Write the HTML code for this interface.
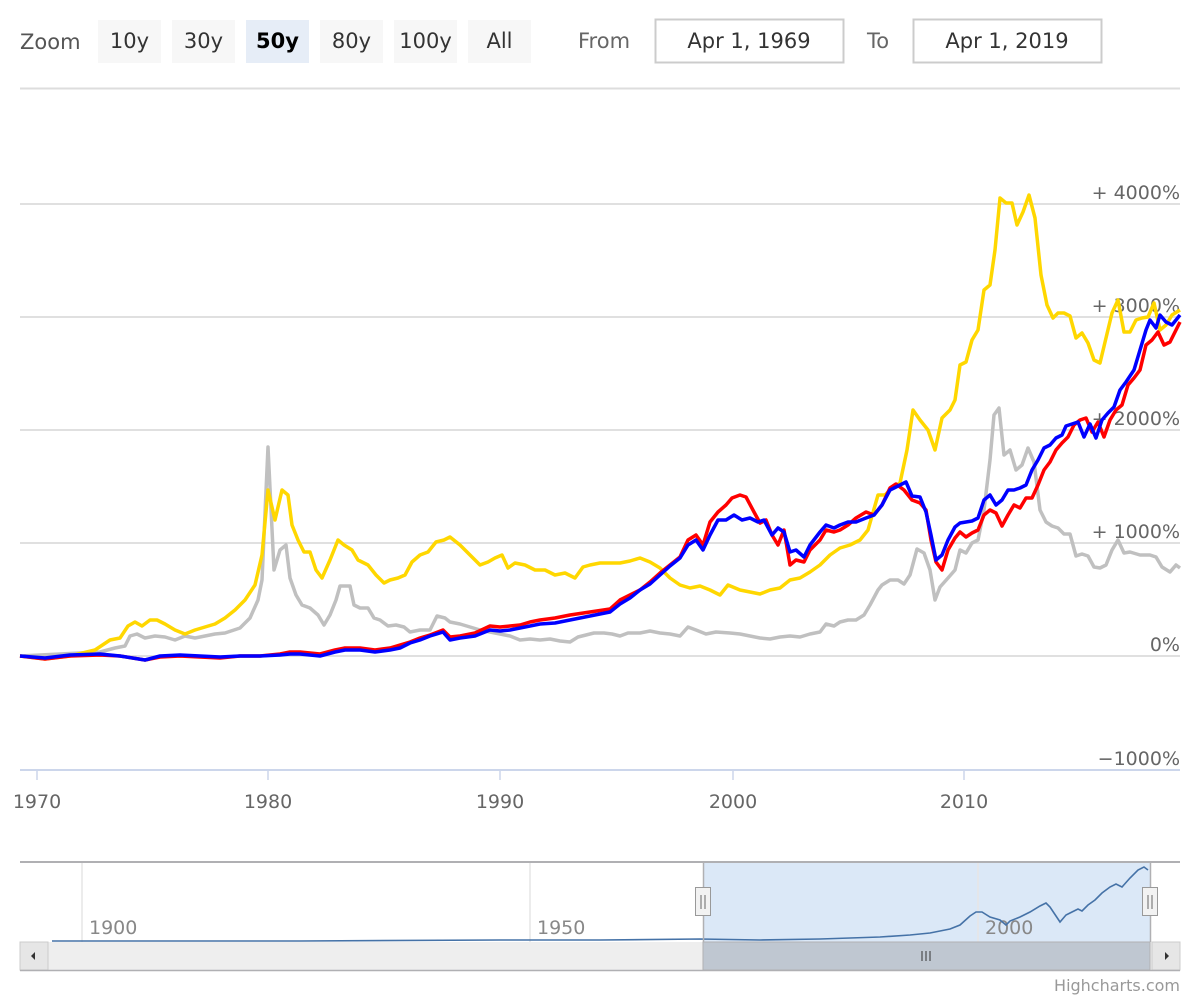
<!DOCTYPE html>
<html><head><meta charset="utf-8"><style>
body{margin:0;background:#fff;font-family:"DejaVu Sans","Liberation Sans",sans-serif;}
svg{display:block}
</style></head><body>
<svg width="1200" height="1000" viewBox="0 0 1200 1000" xmlns="http://www.w3.org/2000/svg" font-family="DejaVu Sans, Liberation Sans, sans-serif">
<text x="20" y="49" font-size="21" fill="#555">Zoom</text>
<g font-size="21" fill="#333" text-anchor="middle">
<rect x="98" y="20" width="63" height="43" fill="#f7f7f7"/><text x="129.5" y="48">10y</text>
<rect x="172" y="20" width="63" height="43" fill="#f7f7f7"/><text x="203.5" y="48">30y</text>
<rect x="246" y="20" width="63" height="43" fill="#e6edf7"/><text x="277.5" y="48" font-weight="bold" fill="#000">50y</text>
<rect x="320" y="20" width="63" height="43" fill="#f7f7f7"/><text x="351.5" y="48">80y</text>
<rect x="394" y="20" width="63" height="43" fill="#f7f7f7"/><text x="425.5" y="48">100y</text>
<rect x="468" y="20" width="63" height="43" fill="#f7f7f7"/><text x="499.5" y="48">All</text>
</g>
<text x="578" y="48" font-size="21" fill="#666">From</text>
<rect x="655.5" y="19.5" width="188" height="43" fill="#fff" stroke="#ccc" stroke-width="2"/>
<text x="749" y="48" font-size="21" fill="#333" text-anchor="middle">Apr 1, 1969</text>
<text x="867" y="48" font-size="21" fill="#666">To</text>
<rect x="913.5" y="19.5" width="188" height="43" fill="#fff" stroke="#ccc" stroke-width="2"/>
<text x="1007" y="48" font-size="21" fill="#333" text-anchor="middle">Apr 1, 2019</text>
<line x1="20" y1="88.5" x2="1180" y2="88.5" stroke="#ddd" stroke-width="2"/>
<g stroke="#d6d6d6" stroke-width="1.5">
<line x1="20" y1="204" x2="1180" y2="204"/><line x1="20" y1="317" x2="1180" y2="317"/>
<line x1="20" y1="430" x2="1180" y2="430"/><line x1="20" y1="543" x2="1180" y2="543"/>
<line x1="20" y1="656" x2="1180" y2="656"/>
</g>
<line x1="20" y1="770" x2="1180" y2="770" stroke="#ccd6eb" stroke-width="2"/>
<g stroke="#ccd6eb" stroke-width="1.5"><line x1="37" y1="770" x2="37" y2="780"/><line x1="268" y1="770" x2="268" y2="780"/><line x1="500" y1="770" x2="500" y2="780"/><line x1="733" y1="770" x2="733" y2="780"/><line x1="964" y1="770" x2="964" y2="780"/></g>
<g font-size="19" fill="#666" text-anchor="end">
<text x="1180" y="199">+ 4000%</text><text x="1180" y="312">+ 3000%</text><text x="1180" y="425">+ 2000%</text><text x="1180" y="538">+ 1000%</text><text x="1180" y="651">0%</text><text x="1180" y="765">−1000%</text>
</g>
<g font-size="19" fill="#666" text-anchor="middle">
<text x="37" y="808">1970</text><text x="268" y="808">1980</text><text x="500" y="808">1990</text><text x="733" y="808">2000</text><text x="964" y="808">2010</text>
</g>
<g fill="none" stroke-width="3.5" stroke-linejoin="round">
<polyline stroke="#c0c0c0" points="20,656 100,652 115,648 125,646 130,636 137,634 145,638 155,636 165,637 175,640 185,636 195,638 205,636 215,634 225,633 240,628 250,618 258,600 262,580 268,447 274,570 280,550 286,545 290,578 296,595 302,605 310,608 318,615 324,625 330,615 336,600 340,586 350,586 354,605 360,608 368,608 374,618 380,620 388,626 396,625 404,627 410,632 420,630 430,630 437,616 445,618 450,622 460,624 470,627 480,630 490,632 500,634 510,636 520,640 530,639 540,640 550,639 560,641 570,642 578,637 586,635 594,633 604,633 612,634 620,636 628,633 640,633 650,631 660,633 670,634 680,636 688,627 696,630 706,634 716,632 730,633 740,634 750,636 760,638 770,639 780,637 790,636 800,637 810,634 820,632 826,624 834,626 840,622 848,620 856,620 864,615 870,605 878,590 882,585 890,580 898,580 904,584 910,575 917,549 924,553 930,570 935,600 940,587 948,578 955,570 960,550 966,553 972,543 978,540 984,510 990,460 994,415 999,408 1004,455 1010,450 1016,470 1022,465 1028,448 1034,462 1040,510 1046,522 1052,526 1058,528 1064,534 1070,534 1076,556 1082,554 1088,556 1094,567 1100,568 1106,565 1112,550 1118,540 1124,553 1130,552 1140,555 1150,555 1156,557 1162,567 1170,572 1176,565 1180,568"/>
<polyline stroke="#ffd700" points="20,656 45,659 70,656 95,650 110,640 120,638 128,626 135,622 142,626 150,620 157,620 165,624 175,630 185,634 195,630 205,627 215,624 225,618 235,610 245,600 255,585 262,555 268,490 275,520 282,490 288,495 292,525 298,540 304,552 310,552 316,570 322,578 330,560 338,540 344,545 352,550 358,560 368,565 376,575 384,583 390,580 398,578 405,575 412,562 420,555 428,552 436,542 444,540 450,537 460,545 470,555 480,565 488,562 495,558 502,555 508,568 515,563 525,565 535,570 545,570 555,575 565,573 575,578 583,567 590,565 600,563 610,563 620,563 630,561 640,558 650,562 660,568 670,578 680,585 690,588 700,586 710,590 720,595 728,585 740,590 750,592 760,594 770,590 780,588 790,580 800,578 810,572 820,565 830,555 840,548 850,545 860,540 868,530 878,495 885,495 892,488 900,483 907,450 913,410 920,420 928,430 935,450 942,418 950,410 955,400 960,365 966,362 972,340 978,330 984,290 990,285 995,250 1000,198 1006,203 1012,203 1017,225 1023,212 1029,195 1035,218 1041,275 1047,305 1053,318 1058,313 1064,313 1070,316 1076,338 1082,333 1088,343 1094,360 1100,363 1106,338 1112,313 1118,300 1124,332 1130,332 1136,320 1142,318 1148,317 1154,303 1160,330 1166,325 1172,315 1180,310"/>
<polyline stroke="#ff0000" points="20,656 45,659 70,656 100,655 120,656 145,660 160,657 180,656 200,657 220,658 240,656 260,656 280,654 290,652 300,652 320,654 335,650 345,648 360,648 375,650 390,648 400,645 410,642 420,638 430,635 443,630 450,637 460,636 475,633 490,626 500,627 510,626 520,625 530,622 540,620 555,618 570,615 590,612 610,609 620,600 630,595 640,590 650,582 660,573 670,565 680,557 688,540 696,535 703,545 710,522 718,512 726,505 732,498 740,495 746,497 754,512 760,523 766,520 772,535 778,545 784,530 790,565 796,560 804,562 810,550 820,540 826,530 834,532 840,530 848,525 856,518 866,512 874,515 882,505 890,488 896,484 904,490 912,500 920,503 926,510 931,540 936,562 942,570 948,550 955,538 960,532 966,537 972,533 978,530 984,515 990,510 996,513 1002,526 1008,515 1014,505 1020,508 1026,498 1032,498 1038,485 1044,470 1050,462 1056,450 1062,443 1068,437 1074,425 1080,420 1086,418 1092,432 1098,422 1104,437 1110,420 1116,410 1122,405 1128,385 1134,378 1140,370 1146,345 1152,340 1158,332 1164,345 1170,342 1176,330 1180,322"/>
<polyline stroke="#0000ff" points="20,656 45,658 70,655 100,654 120,656 145,660 160,656 180,655 200,656 220,657 240,656 260,656 280,655 290,654 300,654 320,656 335,652 345,650 360,650 375,652 390,650 400,648 410,643 420,640 430,636 443,632 450,640 460,638 475,636 490,630 500,631 510,630 520,628 530,626 540,624 555,623 570,620 590,616 610,612 620,604 630,598 640,590 650,584 660,575 670,566 680,558 688,545 696,540 703,550 710,535 718,520 726,520 734,515 742,520 750,518 758,522 764,520 772,535 778,528 784,532 790,552 796,550 804,557 810,545 820,532 826,525 834,528 840,525 848,522 856,522 866,518 874,515 882,505 890,490 898,486 906,482 912,496 920,497 926,512 931,535 936,560 942,555 948,540 955,527 960,523 966,522 972,521 978,518 984,500 990,495 996,505 1002,500 1008,490 1014,490 1020,488 1026,485 1032,470 1038,460 1044,448 1050,445 1056,438 1062,435 1066,426 1072,424 1078,422 1084,437 1090,424 1096,438 1102,420 1108,413 1114,407 1120,390 1126,382 1134,370 1140,350 1146,330 1150,320 1156,328 1160,315 1166,322 1172,325 1180,315"/>
</g>
<!-- navigator -->
<rect x="703" y="862" width="447" height="80" fill="#dbe8f7"/>
<g stroke="#e6e6e6" stroke-width="1.5"><line x1="82" y1="862" x2="82" y2="942"/><line x1="530" y1="862" x2="530" y2="942"/><line x1="978" y1="862" x2="978" y2="942"/></g>
<g font-size="19" fill="#888"><text x="89" y="934">1900</text><text x="537" y="934">1950</text><text x="985" y="934">2000</text></g>
<polyline fill="none" stroke="#4572a7" stroke-width="1.6" points="52,941 300,941 500,940 600,940 700,939 760,940 820,939 850,938 880,937 910,935 930,933 950,929 960,925 970,916 976,912 982,912 990,917 1000,920 1006,925 1010,921 1020,917 1030,912 1040,906 1046,903 1050,907 1056,916 1060,922 1066,915 1072,912 1078,909 1082,911 1088,905 1095,900 1102,893 1110,887 1116,884 1122,887 1130,878 1138,870 1144,867 1148,870"/>
<line x1="20" y1="862" x2="1180" y2="862" stroke="#b0b0b3" stroke-width="2"/>
<line x1="703.5" y1="862" x2="703.5" y2="942" stroke="#b0b0b3" stroke-width="1.5"/>
<line x1="1150.5" y1="862" x2="1150.5" y2="942" stroke="#b0b0b3" stroke-width="1.5"/>
<rect x="695.5" y="887.5" width="15" height="28" fill="#f2f2f2" stroke="#999"/>
<line x1="701" y1="895" x2="701" y2="909" stroke="#666"/><line x1="705" y1="895" x2="705" y2="909" stroke="#666"/>
<rect x="1142.5" y="887.5" width="15" height="28" fill="#f2f2f2" stroke="#999"/>
<line x1="1148" y1="895" x2="1148" y2="909" stroke="#666"/><line x1="1152" y1="895" x2="1152" y2="909" stroke="#666"/>
<rect x="20" y="942" width="1160" height="28" fill="#eeeeee"/>
<rect x="703" y="942" width="447" height="28" fill="#bfc7d1" stroke="#b0b0b3"/>
<rect x="20" y="942" width="28" height="28" fill="#e6e6e6" stroke="#ccc"/>
<rect x="1152" y="942" width="28" height="28" fill="#e6e6e6" stroke="#ccc"/>
<path d="M31,956 L35,952 L35,960Z" fill="#333"/><path d="M1169,956 L1165,952 L1165,960Z" fill="#333"/>
<g stroke="#333"><line x1="922" y1="951" x2="922" y2="961"/><line x1="926" y1="951" x2="926" y2="961"/><line x1="930" y1="951" x2="930" y2="961"/></g>
<line x1="20" y1="970.5" x2="1180" y2="970.5" stroke="#b0b0b3" stroke-width="1.5"/>
<text x="1180" y="991" font-size="16" fill="#999" text-anchor="end">Highcharts.com</text>
</svg>
</body></html>
